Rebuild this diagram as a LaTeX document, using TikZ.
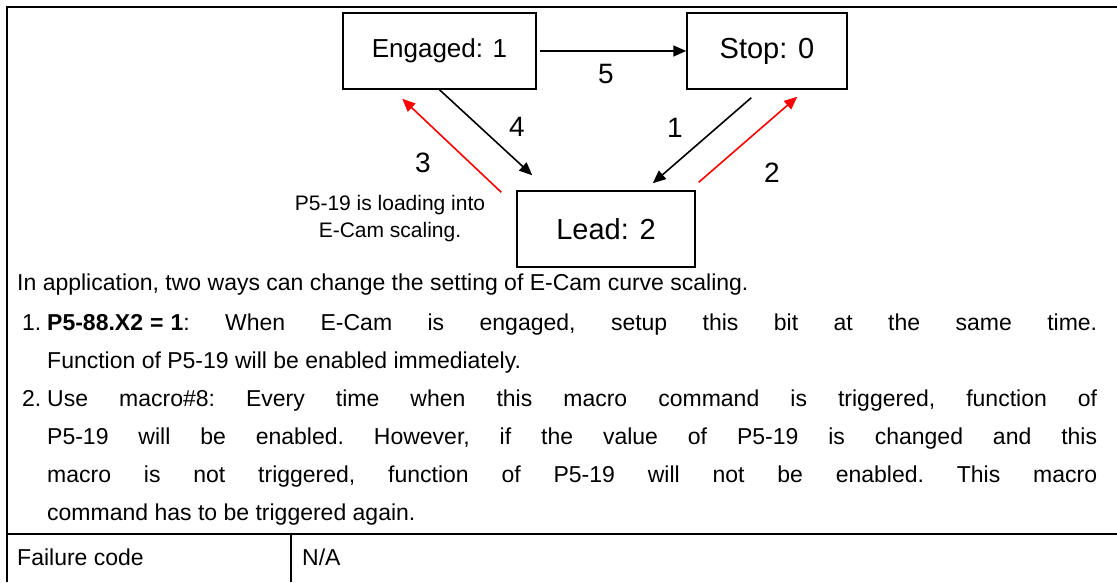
\documentclass[tikz,border=0pt]{standalone}
\usepackage{fontspec}
\setmainfont{Liberation Sans}
\usetikzlibrary{arrows.meta}
\begin{document}
\begin{tikzpicture}[x=1pt,y=-1pt,
  state/.style={draw, line width=1.5pt, inner sep=0, minimum height=76pt, font=\fontsize{29}{34}\selectfont},
  arr/.style={line width=1.6pt, -{Triangle[length=13pt,width=11pt]}},
  redarr/.style={arr, draw=red, fill=red},
  num/.style={inner sep=0, font=\fontsize{28}{32}\selectfont},
  rule/.style={line width=2pt},
  body/.style={inner sep=0, font=\fontsize{23}{38}\selectfont}]
\useasboundingbox (0,0) rectangle (1117,582);
% table rules
\coordinate (tl) at (7,7);
\coordinate (tr) at (1117,7);
\coordinate (bl) at (7,582);
\coordinate (ml) at (7,534);
\coordinate (mr) at (1117,534);
\coordinate (dt) at (291,534);
\coordinate (db) at (291,582);
\draw[rule] (bl) -- (tl) -- (tr);
\draw[rule] (ml) -- (mr);
\draw[rule] (dt) -- (db);
% states
\node[state, minimum width=193pt, font=\fontsize{26}{30}\selectfont] (eng) at (439.5,51) {Engaged: 1};
\node[state, minimum width=160pt] (stop) at (767,51) {Stop: 0};
\node[state, minimum width=178pt] (lead) at (606,229) {Lead: 2};
% connector end points
\coordinate (a4) at ([shift={(16,-15)}]lead.north west);
\coordinate (s3) at ([shift={(-15,2)}]lead.north west);
\coordinate (e3) at ([shift={(60,9)}]eng.south west);
\coordinate (s1) at ([shift={(65,8)}]stop.south west);
\coordinate (e1) at ([shift={(-43,-7)}]lead.north east);
\coordinate (s2) at ([shift={(3,-8)}]lead.north east);
\coordinate (e2) at ([shift={(111,7)}]stop.south west);
% connectors
\draw[arr] ([xshift=3pt]eng.east) -- (stop.west);
\draw[arr] (eng.south) -- (a4);
\draw[redarr] (s3) -- (e3);
\draw[arr] (s1) -- (e1);
\draw[redarr] (s2) -- (e2);
% labels
\node[num] (n5) at (606,74) {5};
\node[num] (n4) at (517,127) {4};
\node[num] (n3) at (423,163) {3};
\node[num] (n1) at (675,128) {1};
\node[num] (n2) at (772,173) {2};
\node[inner sep=0, align=center, font=\fontsize{21}{27}\selectfont] (note) at (390,219) {P5-19 is loading into\\E-Cam scaling.};
% body text
\node[body, anchor=north west, text width=1080pt, align=justify] (text) at (17,274) {\frenchspacing\parindent=0pt
In application, two ways can change the setting of E-Cam curve scaling.\par
\vspace{2pt}
\leftskip=30pt
\noindent\llap{\makebox[25pt][l]{1.}}\textbf{P5-88.X2\hspace{7pt}=\hspace{7pt}1}: When E-Cam is engaged, setup this bit at the same time.\linebreak
Function of P5-19 will be enabled immediately.\par
\noindent\llap{\makebox[25pt][l]{2.}}Use macro\#8: Every time when this macro command is triggered, function of\linebreak
P5-19 will be enabled. However, if the value of P5-19 is changed and this\linebreak
macro is not triggered, function of P5-19 will not be enabled. This macro\linebreak
command has to be triggered again.\par};
% failure row
\node[body, anchor=base west] (fc) at (17,565) {Failure code};
\node[body, anchor=base west] (na) at (302,565) {N/A};
\end{tikzpicture}
\end{document}
